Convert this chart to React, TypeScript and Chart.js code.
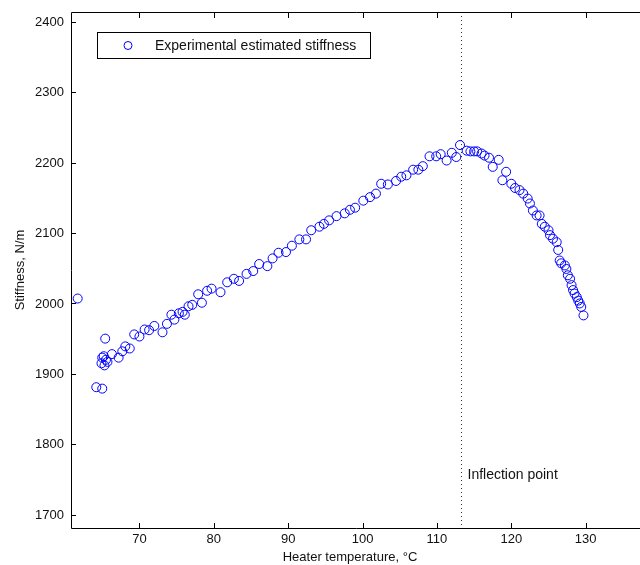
import { useEffect, useRef } from 'react';
import { Chart, registerables } from 'chart.js';

Chart.register(...registerables);

// Heater temperature (°C)
const temperature: number[] = [
  61.7, 65.4, 64.2, 65.0, 65.0, 65.5, 64.9, 65.3, 65.7, 65.2,
  66.3, 67.2, 67.7, 68.1, 68.7, 69.3, 70.0, 70.7, 71.3, 72.0,
  73.1, 73.7, 74.3, 74.7, 75.3, 75.8, 76.1, 76.6, 77.1, 77.9,
  78.4, 79.1, 79.7, 80.9, 81.8, 82.7, 83.4, 84.4, 85.3, 86.1,
  87.2, 87.9, 88.7, 89.7, 90.5, 91.5, 92.4, 93.1, 94.2, 94.8,
  95.5, 96.5, 97.6, 98.3, 99.0, 100.1, 101.0, 101.8, 102.5, 103.4,
  104.5, 105.2, 105.9, 106.8, 107.5, 108.1, 109.0, 109.9, 110.5, 111.3,
  112.0, 112.6, 113.1, 114.0, 114.5, 115.0, 115.4, 116.0, 116.4, 117.0,
  117.5, 118.3, 118.8, 119.3, 120.0, 120.5, 121.1, 121.6, 122.2, 122.5,
  122.9, 123.4, 123.8, 124.1, 124.5, 125.0, 125.2, 125.6, 126.1, 126.3,
  126.5, 126.7, 127.2, 127.4, 127.6, 127.9, 128.1, 128.3, 128.5, 128.8,
  129.0, 129.2, 129.4, 129.7,
];

// Experimental estimated stiffness (N/m)
const stiffness: number[] = [
  2007, 1950, 1881, 1879, 1923, 1920, 1915, 1912, 1917, 1925,
  1928, 1923, 1932, 1939, 1936, 1956, 1953, 1963, 1962, 1968,
  1959, 1971, 1984, 1977, 1986, 1988, 1984, 1996, 1998, 2013,
  2001, 2018, 2021, 2016, 2030, 2035, 2032, 2042, 2046, 2056,
  2053, 2064, 2072, 2073, 2082, 2091, 2091, 2104, 2109, 2113,
  2118, 2124, 2128, 2133, 2136, 2146, 2151, 2156, 2170, 2169,
  2174, 2180, 2182, 2190, 2190, 2195, 2209, 2209, 2212, 2203,
  2214, 2208, 2225, 2217, 2216, 2216, 2216, 2213, 2210, 2207,
  2194, 2204, 2175, 2187, 2170, 2164, 2161, 2156, 2149, 2142,
  2132, 2125, 2125, 2113, 2109, 2104, 2097, 2092, 2087, 2076,
  2061, 2057, 2054, 2049, 2040, 2035, 2026, 2019, 2014, 2009,
  2004, 2000, 1995, 1983,
];

const xTicks: number[] = [70, 80, 90, 100, 110, 120, 130];
const yTicks: number[] = [1700, 1800, 1900, 2000, 2100, 2200, 2300, 2400];
const xRange: number[] = [60.8, 137.3];
const yRange: number[] = [1681, 2414];
const inflectionX = 113.2;
const inflectionLabelY = 1756;

const seriesLabel = 'Experimental estimated stiffness';
const xTitle = 'Heater temperature, °C';
const yTitle = 'Stiffness, N/m';
const inflectionLabel = 'Inflection point';

const FONT = '13px "Liberation Sans", Arial, sans-serif';
const FONT_BIG = '14px "Liberation Sans", Arial, sans-serif';
const BLUE = '#0000ff';

const matlabPlugin = {
  id: 'matlabAxes',
  beforeDatasetsDraw(chart: any) {
    const { ctx, chartArea, scales } = chart;
    const xs = scales.x;
    const ys = scales.y;
    const L = chartArea.left, R = chartArea.right, T = chartArea.top, B = chartArea.bottom;
    ctx.save();
    // inflection dotted line
    const ix = Math.round(xs.getPixelForValue(inflectionX)) + 0.5;
    ctx.strokeStyle = '#333';
    ctx.lineWidth = 1;
    ctx.setLineDash([1, 3]);
    ctx.beginPath();
    ctx.moveTo(ix, T);
    ctx.lineTo(ix, B);
    ctx.stroke();
    ctx.setLineDash([]);

    // frame
    ctx.strokeStyle = '#000';
    ctx.lineWidth = 1;
    ctx.beginPath();
    ctx.moveTo(L + 0.5, T + 0.5);
    ctx.lineTo(L + 0.5, B + 0.5);
    ctx.lineTo(R + 1, B + 0.5);
    ctx.moveTo(L + 0.5, T + 0.5);
    ctx.lineTo(R + 1, T + 0.5);
    ctx.stroke();

    // ticks
    ctx.beginPath();
    for (const v of yTicks) {
      const y = Math.round(ys.getPixelForValue(v)) + 0.5;
      ctx.moveTo(L, y);
      ctx.lineTo(L + 5, y);
    }
    for (const v of xTicks) {
      const x = Math.round(xs.getPixelForValue(v)) + 0.5;
      ctx.moveTo(x, B);
      ctx.lineTo(x, B - 5);
      ctx.moveTo(x, T);
      ctx.lineTo(x, T + 6);
    }
    ctx.stroke();

    // tick labels
    ctx.fillStyle = '#111';
    ctx.font = FONT;
    ctx.textAlign = 'right';
    ctx.textBaseline = 'middle';
    for (const v of yTicks) {
      ctx.fillText(String(v), L - 7, ys.getPixelForValue(v) + 0.5);
    }
    ctx.textAlign = 'center';
    ctx.textBaseline = 'top';
    for (const v of xTicks) {
      ctx.fillText(String(v), xs.getPixelForValue(v), B + 5);
    }

    // axis titles
    ctx.textBaseline = 'middle';
    ctx.fillText(xTitle, 350, 557);
    ctx.save();
    ctx.translate(20, (T + B) / 2);
    ctx.rotate(-Math.PI / 2);
    ctx.fillText(yTitle, 0, 0);
    ctx.restore();

    // inflection label
    ctx.font = FONT_BIG;
    ctx.textAlign = 'left';
    ctx.fillText(inflectionLabel, ix + 6, ys.getPixelForValue(inflectionLabelY));
    ctx.restore();
  },
  afterDatasetsDraw(chart: any) {
    const { ctx } = chart;
    ctx.save();
    // legend box
    ctx.fillStyle = '#fff';
    ctx.fillRect(97, 32, 273, 26);
    ctx.strokeStyle = '#000';
    ctx.lineWidth = 1;
    ctx.strokeRect(97.5, 32.5, 273, 26);
    ctx.strokeStyle = BLUE;
    ctx.beginPath();
    ctx.arc(128, 45.5, 4, 0, Math.PI * 2);
    ctx.stroke();
    ctx.fillStyle = '#111';
    ctx.font = FONT_BIG;
    ctx.textAlign = 'left';
    ctx.textBaseline = 'middle';
    ctx.fillText(seriesLabel, 155, 46);
    ctx.restore();
  },
};

export default function App() {
  const canvasRef = useRef<HTMLCanvasElement | null>(null);

  useEffect(() => {
    const canvas = canvasRef.current;
    if (!canvas) return;
    const data = temperature.map((t, i) => ({ x: t, y: stiffness[i] }));
    const chart = new Chart(canvas, {
      type: 'scatter',
      data: {
        datasets: [
          {
            label: seriesLabel,
            data,
            pointStyle: 'circle',
            pointRadius: 4.5,
            pointBorderWidth: 1,
            borderColor: BLUE,
            backgroundColor: 'rgba(0,0,0,0)',
            pointBackgroundColor: 'rgba(0,0,0,0)',
            pointBorderColor: BLUE,
          },
        ],
      },
      options: {
        responsive: false,
        animation: false,
        devicePixelRatio: 1,
        layout: { autoPadding: false, padding: { left: 71, top: 12, right: 0, bottom: 37 } },
        scales: {
          x: { type: 'linear', min: xRange[0], max: xRange[1], display: false },
          y: { type: 'linear', min: yRange[0], max: yRange[1], display: false },
        },
        plugins: {
          legend: { display: false },
          tooltip: { enabled: false },
        },
      },
      plugins: [matlabPlugin],
    });
    return () => chart.destroy();
  }, []);

  return (
    <div style={{ position: 'fixed', left: 0, top: 0, width: 640, height: 565, background: '#fff' }}>
      <canvas ref={canvasRef} width={640} height={565} style={{ display: 'block', width: 640, height: 565 }} />
    </div>
  );
}
